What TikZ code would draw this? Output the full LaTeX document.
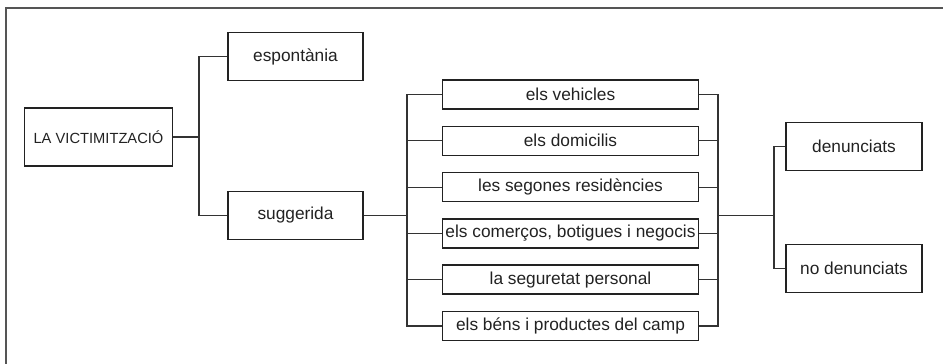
\documentclass[tikz,border=0pt]{standalone}
\usepackage{fontspec}
\setmainfont{Liberation Sans}
\definecolor{ink}{HTML}{222222}
\definecolor{wire}{HTML}{333333}
\definecolor{frame}{HTML}{555555}
\begin{document}
\begin{tikzpicture}[x=1pt,y=-1pt,
  box/.style={draw=ink,line width=1.6pt,text=ink,inner sep=0pt,font=\fontsize{17.3}{19}\selectfont},
  bigbox/.style={box,minimum width=135pt,minimum height=48pt},
  midbox/.style={box,minimum width=256pt,minimum height=29pt},
  wirel/.style={draw=wire,line width=1.2pt}]
\useasboundingbox (0,0) rectangle (943,364);
\draw[frame,line width=1.6pt] (943,8) -- (6,8) -- (6,364);
\node[box,minimum width=148pt,minimum height=58pt,font=\fontsize{14.7}{16}\selectfont] (la) at (98.5,137) {LA VICTIMITZACIÓ};
\node[bigbox] (esp) at (295.5,56.5) {espontània};
\node[bigbox] (sug) at (295.5,215.5) {suggerida};
\node[midbox] (m1) at (570.5,94.5) {els vehicles};
\node[midbox] (m2) at (570.5,140.8) {els domicilis};
\node[midbox] (m3) at (570.5,187.1) {les segones residències};
\node[midbox] (m4) at (570.5,233.4) {els comerços, botigues i negocis};
\node[midbox] (m5) at (570.5,279.7) {la seguretat personal};
\node[midbox] (m6) at (570.5,326) {els béns i productes del camp};
\node[box,minimum width=136pt,minimum height=48pt] (d1) at (854,146.5) {denunciats};
\node[box,minimum width=136pt,minimum height=48pt] (d2) at (854,268.5) {no denunciats};
\coordinate (b1) at (199,0);
\coordinate (lb) at (407,0);
\coordinate (rb) at (718,0);
\coordinate (b2) at (774,0);
\draw[wirel] (la.east) -- (la.east -| b1);
\draw[wirel] (esp.west) -- (esp.west -| b1) -- (sug.west -| b1) -- (sug.west);
\draw[wirel] (sug.east) -- (sug.east -| lb);
\draw[wirel] (m1.west) -- (m1.west -| lb) -- (m6.west -| lb) -- (m6.west);
\foreach \m in {m2,m3,m4,m5} \draw[wirel] (\m.west) -- (\m.west -| lb);
\draw[wirel] (m1.east) -- (m1.east -| rb) -- (m6.east -| rb) -- (m6.east);
\foreach \m in {m2,m3,m4,m5} \draw[wirel] (\m.east) -- (\m.east -| rb);
\draw[wirel] (sug.east -| rb) -- (sug.east -| b2);
\draw[wirel] (d1.west) -- (d1.west -| b2) -- (d2.west -| b2) -- (d2.west);
\end{tikzpicture}
\end{document}
